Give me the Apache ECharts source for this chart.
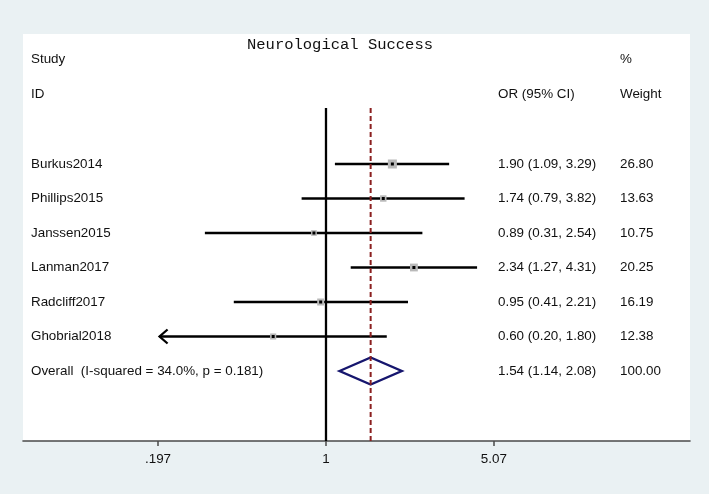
<!DOCTYPE html>
<html>
<head>
<meta charset="utf-8">
<script src="https://cdn.jsdelivr.net/npm/echarts@6/dist/echarts.min.js"></script>
<style>
html,body{margin:0;padding:0;background:#eaf1f3;}
#c{width:709px;height:494px;}
</style>
</head>
<body>
<div id="c"></div>
<script>
// ---- data ----
const chartTitle = 'Neurological Success';
const headerStudy = ['Study', 'ID'];
const headerOR = ['', 'OR (95% CI)'];
const headerWeight = ['%', 'Weight'];
const studies = ['Burkus2014', 'Phillips2015', 'Janssen2015', 'Lanman2017', 'Radcliff2017', 'Ghobrial2018'];
const orValues = [1.90, 1.74, 0.89, 2.34, 0.95, 0.60];
const ciLower = [1.09, 0.79, 0.31, 1.27, 0.41, 0.20];
const ciUpper = [3.29, 3.82, 2.54, 4.31, 2.21, 1.80];
const weights = [26.80, 13.63, 10.75, 20.25, 16.19, 12.38];
const overallLabel = 'Overall  (I-squared = 34.0%, p = 0.181)';
const overallOR = 1.54;
const overallLower = 1.14;
const overallUpper = 2.08;
const overallWeight = 100.00;
const tickValues = [0.197, 1, 5.07];
const tickLabels = ['.197', '1', '5.07'];

// ---- layout ----
const ln = Math.log;
const fmt2 = v => v.toFixed(2);
const orText = (o, l, u) => fmt2(o) + ' (' + fmt2(l) + ', ' + fmt2(u) + ')';
const X_MIN = -2.93, X_MAX = 3.52;
const Y_MAX = 407;
const ROW0 = 130, ROW_STEP = 34.5;
const rowY = i => ROW0 + ROW_STEP * i;
const HEAD_Y = [25, 60];
const LINE_TOP = 74;
const COL_STUDY = 8, COL_OR = 475, COL_W = 597;
const FONT = '"Liberation Sans", Arial, sans-serif';
const FS = 13.4;
const TXT = '#111111';
const LW = 2.3;
const tickLn = tickValues.map(ln);
const minTickRounded = Math.round(tickValues[0] * 100) / 100;

function txt(x, y, s, align) {
  return { type: 'text', x: x, y: y, style: { text: s, fill: TXT, fontSize: FS, fontFamily: FONT, align: align || 'left', verticalAlign: 'middle' } };
}

const chart = echarts.init(document.getElementById('c'));
chart.setOption({
  backgroundColor: '#eaf1f3',
  animation: false,
  grid: { left: 23, right: 19, top: 34, bottom: 53, show: true, backgroundColor: '#ffffff', borderWidth: 0 },
  xAxis: {
    type: 'value', min: X_MIN, max: X_MAX,
    splitLine: { show: false },
    axisLine: { show: true, onZero: false, lineStyle: { color: '#4a4a4a', width: 1.6 } },
    axisTick: { show: true, customValues: tickLn, length: 5, lineStyle: { color: '#4a4a4a', width: 1.5 } },
    axisLabel: {
      customValues: tickLn, margin: 12, fontSize: FS, fontFamily: FONT, color: TXT,
      formatter: function (v) {
        let best = 0;
        tickLn.forEach((t, k) => { if (Math.abs(t - v) < Math.abs(tickLn[best] - v)) best = k; });
        return tickLabels[best];
      }
    }
  },
  yAxis: { type: 'value', min: 0, max: Y_MAX, inverse: true, show: false },
  series: [
    {
      type: 'line', silent: true, symbol: 'none', z: 2,
      data: [[0, LINE_TOP], [0, Y_MAX]],
      lineStyle: { color: '#000', width: LW }
    },
    {
      type: 'custom', z: 3, silent: true,
      data: studies.map((s, i) => [i]),
      renderItem: function (params, api) {
        const i = api.value(0);
        const cs = params.coordSys;
        const y = api.coord([0, rowY(i)])[1];
        const xo = api.coord([ln(orValues[i]), 0])[0];
        const xl = api.coord([ln(ciLower[i]), 0])[0];
        const xu = api.coord([ln(ciUpper[i]), 0])[0];
        const side = 1.74 * Math.sqrt(weights[i]);
        const children = [
          { type: 'line', shape: { x1: xl, y1: y, x2: xu, y2: y }, style: { stroke: '#000', lineWidth: LW } },
          { type: 'rect', shape: { x: xo - side / 2, y: y - side / 2, width: side, height: side }, style: { fill: '#b9b9b9' } },
          { type: 'rect', shape: { x: xo - 1.5, y: y - 1.5, width: 3, height: 3 }, style: { fill: '#000' } },
          txt(cs.x + COL_STUDY, y, studies[i]),
          txt(cs.x + COL_OR, y, orText(orValues[i], ciLower[i], ciUpper[i])),
          txt(cs.x + COL_W, y, fmt2(weights[i]))
        ];
        if (ciLower[i] <= minTickRounded) {
          children.push({ type: 'polyline', shape: { points: [[xl + 8, y - 7], [xl, y], [xl + 8, y + 7]] }, style: { stroke: '#000', lineWidth: LW, fill: null } });
        }
        return { type: 'group', children: children };
      }
    },
    {
      type: 'custom', z: 3, silent: true,
      data: [[0]],
      renderItem: function (params, api) {
        const cs = params.coordSys;
        const y = api.coord([0, rowY(6)])[1];
        const xo = api.coord([ln(overallOR), 0])[0];
        const xl = api.coord([ln(overallLower), 0])[0];
        const xu = api.coord([ln(overallUpper), 0])[0];
        const h = 13.5;
        return { type: 'group', children: [
          { type: 'polygon', shape: { points: [[xl, y], [xo, y - h], [xu, y], [xo, y + h]] }, style: { stroke: '#16166e', lineWidth: 2.4, fill: null } },
          txt(cs.x + COL_STUDY, y, overallLabel),
          txt(cs.x + COL_OR, y, orText(overallOR, overallLower, overallUpper)),
          txt(cs.x + COL_W, y, fmt2(overallWeight))
        ] };
      }
    },
    {
      type: 'line', silent: true, symbol: 'none', z: 4,
      data: [[ln(overallOR), LINE_TOP], [ln(overallOR), Y_MAX]],
      lineStyle: { color: '#8b2020', width: 2, type: [5, 3] }
    },
    {
      type: 'custom', z: 3, silent: true,
      data: headerStudy.map((s, i) => [i]),
      renderItem: function (params, api) {
        const i = api.value(0);
        const cs = params.coordSys;
        const y = api.coord([0, HEAD_Y[i]])[1];
        const ch = [txt(cs.x + COL_STUDY, y, headerStudy[i]), txt(cs.x + COL_W, y, headerWeight[i])];
        if (headerOR[i]) ch.push(txt(cs.x + COL_OR, y, headerOR[i]));
        return { type: 'group', children: ch };
      }
    }
  ],
  graphic: [
    { type: 'text', x: 340, y: 45, style: { text: chartTitle, fill: '#111', fontSize: 15.5, fontFamily: '"Liberation Mono", "DejaVu Sans Mono", monospace', align: 'center', verticalAlign: 'middle' } }
  ]
});
</script>
</body>
</html>
